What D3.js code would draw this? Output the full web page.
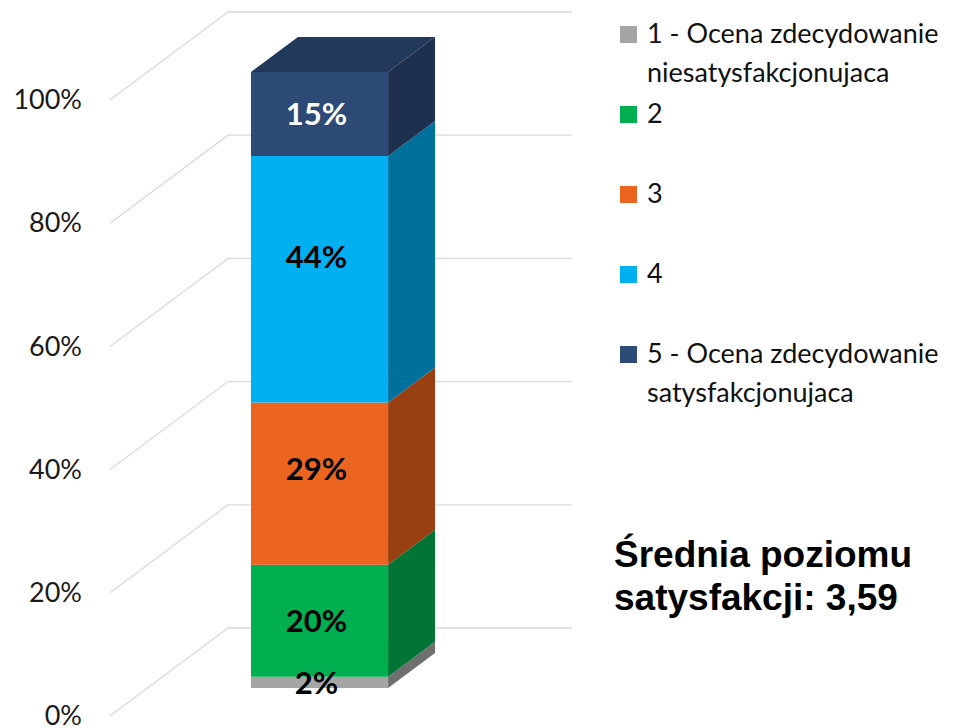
<!DOCTYPE html>
<html>
<head>
<meta charset="utf-8">
<script src="https://cdn.jsdelivr.net/npm/d3@7"></script>
<style>
  body { margin: 0; background: #fff; }
  svg text { font-family: Lato, "Open Sans", sans-serif; }
</style>
</head>
<body>
<div class="canvas"></div>
<script>
// Data
const categories = ["Ocena"];
const seriesKeys = ["1", "2", "3", "4", "5"];
const seriesValues = [2, 20, 29, 44, 15];
const legendLabels = [
    ["1 - Ocena zdecydowanie", "niesatysfakcjonujaca"],
    ["2"],
    ["3"],
    ["4"],
    ["5 - Ocena zdecydowanie", "satysfakcjonujaca"]
];
const tickValues = [0, 0.2, 0.4, 0.6, 0.8, 1];
const noteLines = ["Średnia poziomu", "satysfakcji: 3,59"];

// Colours: front face, side face
const frontColours = ["#a5a5a5", "#00b050", "#ec6520", "#00b0f0", "#2c4a75"];
const sideColours = ["#6f6f6f", "#007536", "#984012", "#00719c", "#1e304d"];
const topColour = "#22395b";
const labelColours = ["#000", "#000", "#000", "#000", "#fff"];

const width = 965, height = 728;
const svg = d3.select(".canvas")
    .append("svg")
    .attr("width", width)
    .attr("height", height);

// 3D floor / wall geometry
const floorX = 110, floorY = 716;   // front-left corner of the floor
const depthX = 118, depthY = 88;    // offset from front to back wall
const wallW = 344, plotH = 616;
const zFront = 0.318, zBack = 0.716; // bar depth inside the box

const x = d3.scaleBand()
    .domain(categories)
    .range([0, wallW])
    .padding(0.43);
const y = d3.scaleLinear()
    .domain([0, 1])
    .range([0, plotH]);

const proj = (px, v, z) => [floorX + px + z * depthX, floorY - y(v) - z * depthY];

// Gridlines: diagonal on floor-side, then across the back wall
const grid = svg.append("g");
tickValues.forEach(t => {
    const a = proj(0, t, 0), b = proj(0, t, 1), c = proj(wallW, t, 1);
    grid.append("polyline")
        .attr("points", [a, b, c].map(p => p.join(",")).join(" "))
        .attr("fill", "none")
        .attr("stroke", "#d9d9d9")
        .attr("stroke-width", 1.3);
});

// Y axis labels on the front edge
const yAxisScale = d3.scaleLinear().domain([0, 1]).range([floorY, floorY - plotH]);
const yAxisGroup = svg.append("g")
    .attr("transform", `translate(${floorX}, 0)`)
    .call(d3.axisLeft(yAxisScale)
        .tickValues(tickValues)
        .tickSize(0)
        .tickPadding(28)
        .tickFormat(d3.format(".0%")));
yAxisGroup.select(".domain").remove();
yAxisGroup.selectAll("text")
    .attr("font-family", "Lato, sans-serif")
    .attr("font-size", 27)
    .attr("fill", "#1a1a1a");

// Stack (100% stacked)
const row = { cat: categories[0] };
seriesKeys.forEach((k, i) => row[k] = seriesValues[i]);
const stacked = d3.stack().keys(seriesKeys).offset(d3.stackOffsetExpand)([row]);

const bar = svg.append("g");
const poly = pts => pts.map(p => p.join(",")).join(" ");

stacked.forEach((layer, i) => {
    const d = layer[0];
    const x0 = x(d.data.cat), x1 = x0 + x.bandwidth();
    // side face
    bar.append("polygon")
        .attr("points", poly([
            proj(x1, d[0], zFront), proj(x1, d[0], zBack),
            proj(x1, d[1], zBack), proj(x1, d[1], zFront)
        ]))
        .attr("fill", sideColours[i]);
    // front face
    bar.append("polygon")
        .attr("points", poly([
            proj(x0, d[0], zFront), proj(x1, d[0], zFront),
            proj(x1, d[1], zFront), proj(x0, d[1], zFront)
        ]))
        .attr("fill", frontColours[i]);
    // top face on the last segment
    if (i === stacked.length - 1) {
        bar.append("polygon")
            .attr("points", poly([
                proj(x0, d[1], zFront), proj(x1, d[1], zFront),
                proj(x1, d[1], zBack), proj(x0, d[1], zBack)
            ]))
            .attr("fill", topColour);
    }
});

// Value labels, a little above the centre of the taller segments
stacked.forEach((layer, i) => {
    const d = layer[0];
    const cx = proj(x(d.data.cat) + x.bandwidth() / 2, 0, zFront)[0] - 3;
    const yc = (proj(0, d[0], zFront)[1] + proj(0, d[1], zFront)[1]) / 2;
    const segH = y(d[1] - d[0]);
    const lift = segH > 150 ? segH * 0.09 : 0;
    svg.append("text")
        .attr("x", cx)
        .attr("y", yc - lift)
        .attr("dy", "0.36em")
        .attr("text-anchor", "middle")
        .attr("font-weight", 700)
        .attr("font-size", 31)
        .attr("fill", labelColours[i])
        .text(seriesValues[i] + "%");
});

// Legend
const legend = svg.append("g").attr("transform", "translate(620, 43)");
legendLabels.forEach((lines, i) => {
    const g = legend.append("g").attr("transform", `translate(0, ${i * 80})`);
    g.append("rect")
        .attr("x", 0).attr("y", -17)
        .attr("width", 17).attr("height", 17)
        .attr("fill", frontColours[i]);
    lines.forEach((t, j) => {
        g.append("text")
            .attr("x", 27)
            .attr("y", j * 39)
            .attr("font-size", 27)
            .attr("fill", "#111")
            .text(t);
    });
});

// Average note
noteLines.forEach((t, j) => {
    svg.append("text")
        .attr("x", 614)
        .attr("y", 567 + j * 43)
        .style("font-family", "'Liberation Sans', Arial, sans-serif")
        .attr("font-weight", 700)
        .attr("font-size", 37)
        .attr("fill", "#000")
        .text(t);
});
</script>
</body>
</html>
